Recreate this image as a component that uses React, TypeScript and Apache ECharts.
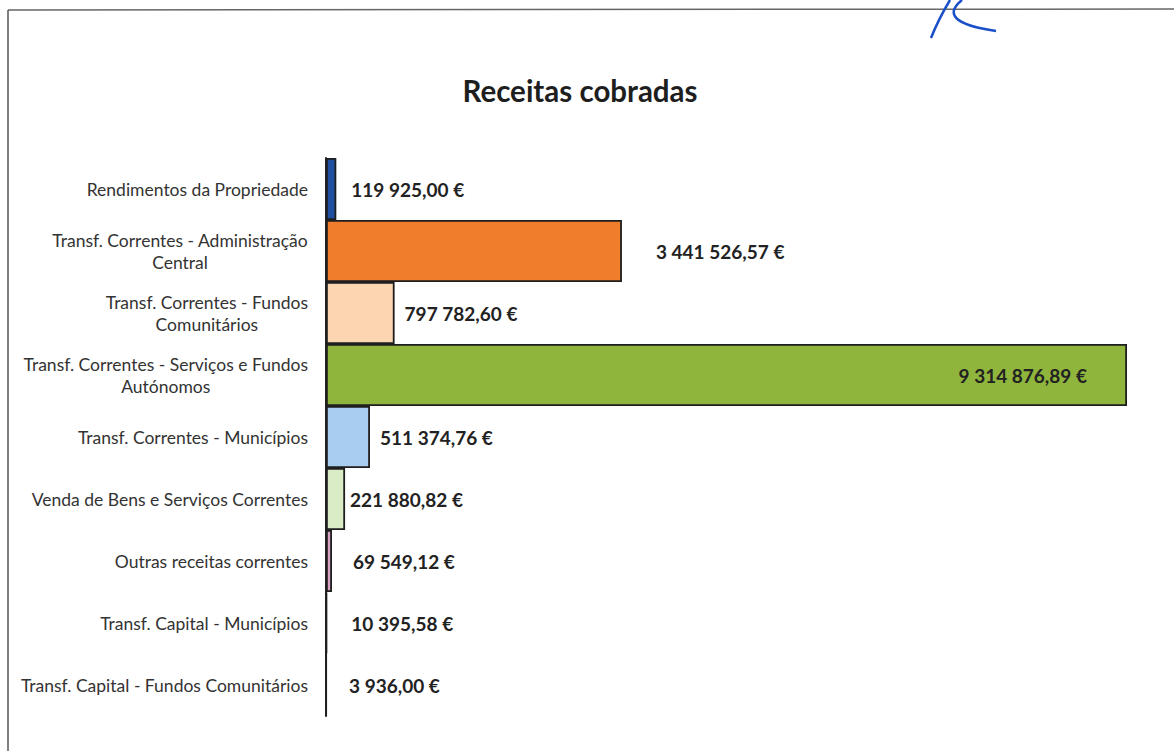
import React, { useEffect, useRef } from "react";
import * as echarts from "echarts";

const categories: string[] = [
  "Rendimentos da Propriedade",
  "Transf. Correntes - Administração\nCentral",
  "Transf. Correntes - Fundos\nComunitários",
  "Transf. Correntes - Serviços e Fundos\nAutónomos",
  "Transf. Correntes - Municípios",
  "Venda de Bens e Serviços Correntes",
  "Outras receitas correntes",
  "Transf. Capital - Municípios",
  "Transf. Capital - Fundos Comunitários",
];

const values: number[] = [
  119925.0, 3441526.57, 797782.6, 9314876.89, 511374.76, 221880.82, 69549.12, 10395.58, 3936.0,
];

const barColors: string[] = [
  "#1f4f9e", "#f07d2c", "#fbd6b1", "#8fb53d", "#a9cdf0", "#d9ecc6", "#d8a2c4", "#5a5a5a", "#5a5a5a",
];

const labelDistances: number[] = [15, 34, 10, 40, 10, 5, 21, 24, 22];

const fmt = (v: number): string => {
  const [i, d] = v.toFixed(2).split(".");
  const grouped = i.replace(/\B(?=(\d{3})+(?!\d))/g, " ");
  return `${grouped},${d} €`;
};

export default function App() {
  const ref = useRef<HTMLDivElement>(null);
  useEffect(() => {
    if (!ref.current) return;
    const chart = echarts.init(ref.current, undefined, { renderer: "svg" });
    const maxV = Math.max(...values);
    chart.setOption({
      animation: false,
      backgroundColor: "#ffffff",
      title: {
        text: "Receitas cobradas",
        left: 575,
        top: 70,
        textAlign: "center",
        textStyle: { fontFamily: "Lato", fontWeight: "bold", fontSize: 29.5, color: "#1e1e1e" },
      },
      grid: { left: 326, right: 47, top: 158, bottom: 35, containLabel: false },
      xAxis: { type: "value", min: 0, max: maxV, show: false },
      yAxis: {
        type: "category",
        inverse: true,
        data: categories,
        axisLine: { show: true, lineStyle: { color: "#222", width: 2 } },
        axisTick: { show: false },
        axisLabel: {
          margin: 18,
          align: "right",
          formatter: (s: string) =>
            s
              .split("\n")
              .map((l) => `{c|${l}}`)
              .join("\n"),
          rich: {
            c: {
              fontFamily: "Lato",
              fontSize: 17.5,
              color: "#333",
              lineHeight: 22,
              align: "center",
            },
          },
        },
      },
      series: [
        {
          type: "bar",
          barCategoryGap: "0%",
          data: values.map((v, i) => ({
            value: v,
            itemStyle: { color: barColors[i], borderColor: "#1e1e1e", borderWidth: 1.8 },
            label: {
              show: true,
              position: v === maxV ? "insideRight" : "right",
              distance: labelDistances[i],
              formatter: () => fmt(v),
              fontFamily: "Lato",
              fontWeight: "bold",
              fontSize: 19,
              color: "#222",
            },
          })),
        },
      ],
      graphic: [
        { type: "line", shape: { x1: 8, y1: 10, x2: 1174, y2: 9 }, style: { stroke: "#666", lineWidth: 1.5 } },
        { type: "line", shape: { x1: 8, y1: 10, x2: 8, y2: 751 }, style: { stroke: "#555", lineWidth: 1.5 } },
        {
          type: "bezierCurve",
          shape: { x1: 931, y1: 38, x2: 950, y2: 0, cpx1: 938, cpy1: 20 },
          style: { stroke: "#1a4fc8", lineWidth: 2.5, fill: "none" },
        },
        {
          type: "bezierCurve",
          shape: { x1: 962, y1: 0, x2: 996, y2: 31, cpx1: 935, cpy1: 22 },
          style: { stroke: "#1a4fc8", lineWidth: 2.5, fill: "none" },
        },
      ],
    });
    return () => chart.dispose();
  }, []);
  return (
    <div
      ref={ref}
      style={{ position: "fixed", left: 0, top: 0, width: 1174, height: 751, background: "#fff" }}
    />
  );
}
